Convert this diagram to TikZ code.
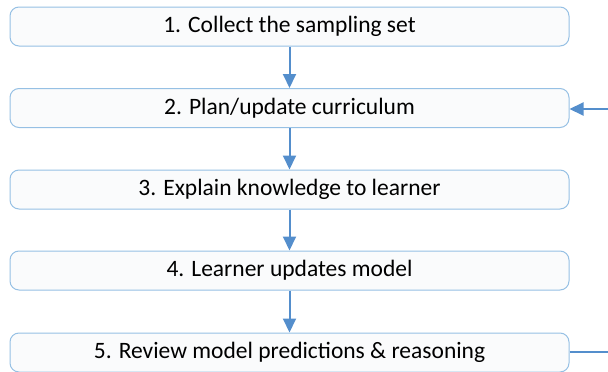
\documentclass[tikz,border=0pt]{standalone}
\usepackage{fontspec}
\setmainfont{Carlito}
\usetikzlibrary{arrows.meta}
\definecolor{boxborder}{RGB}{150,192,228}
\definecolor{arrowblue}{RGB}{84,142,204}
\definecolor{boxfill}{RGB}{250,251,252}
\begin{document}
\begin{tikzpicture}[x=1pt,y=-1pt,
  stepbox/.style={draw=boxborder, line width=1pt, rounded corners=9pt, fill=boxfill,
    minimum width=559pt, minimum height=39pt, inner sep=0pt, font=\fontsize{23.5}{26}\selectfont, text=black},
  flow/.style={draw=arrowblue, line width=2pt, -{Triangle[length=14pt,width=13pt]}}]
\useasboundingbox (0,0) rectangle (608,372);
\node[stepbox] (s1) at (289.5,26.5) {1. Collect the sampling set};
\node[stepbox] (s2) at (289.5,108) {2. Plan/update curriculum};
\node[stepbox] (s3) at (289.5,189.5) {3. Explain knowledge to learner};
\node[stepbox] (s4) at (289.5,270.5) {4. Learner updates model};
\node[stepbox] (s5) at (289.5,352.5) {5. Review model predictions \& reasoning};
\draw[flow] (s1) -- (s2);
\draw[flow] (s2) -- (s3);
\draw[flow] (s3) -- (s4);
\draw[flow] (s4) -- (s5);
\coordinate (c1) at (612,352);
\coordinate (c2) at (612,109);
\draw[flow] (s5.east |- c1) -- (c1) -- (c2) -- (s2.east |- c2);
\end{tikzpicture}
\end{document}
